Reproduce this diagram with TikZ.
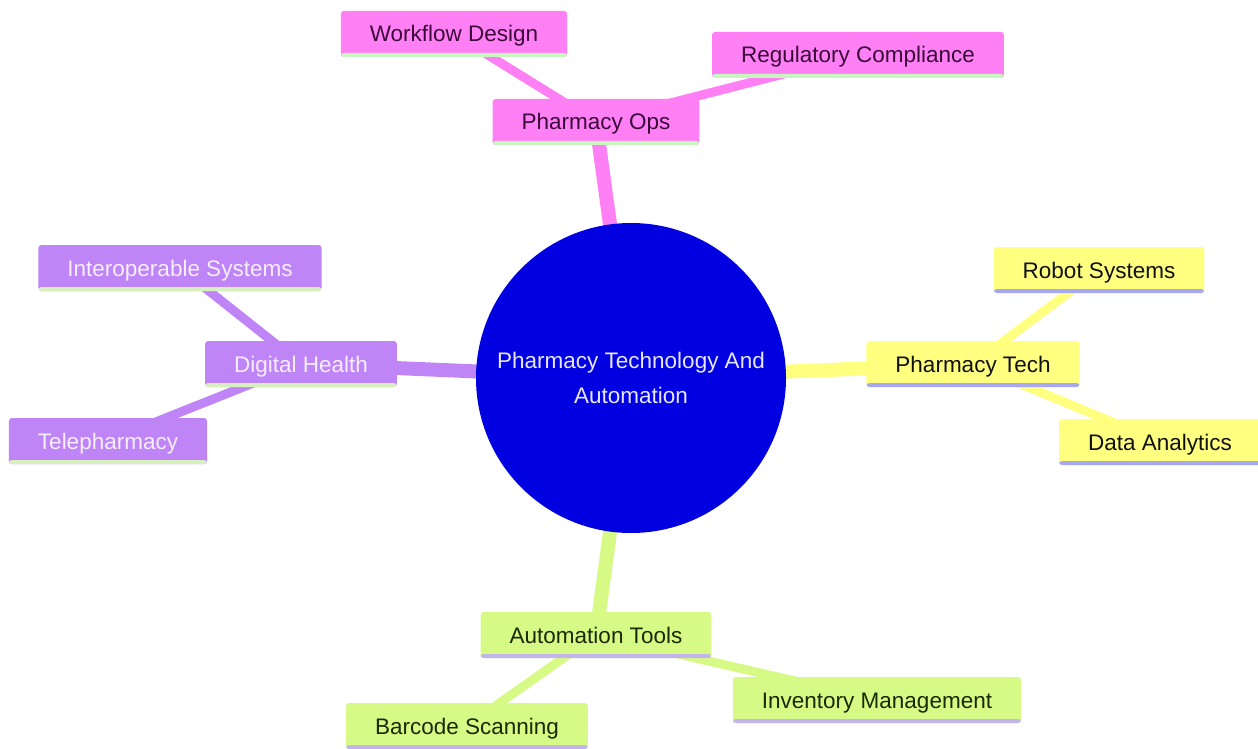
\documentclass[tikz,border=0pt]{standalone}
\usepackage{fontspec}
\setmainfont{Liberation Sans}
\usetikzlibrary{backgrounds}
\definecolor{pinkF}{HTML}{FF80F5}
\definecolor{pinkS}{HTML}{C8F5C0}
\definecolor{pinkT}{HTML}{3A0A3A}
\definecolor{yelF}{HTML}{FFFF80}
\definecolor{yelS}{HTML}{A8A8F0}
\definecolor{yelT}{HTML}{101010}
\definecolor{purF}{HTML}{BF85F7}
\definecolor{purS}{HTML}{D8F0C0}
\definecolor{purT}{HTML}{F5EEFF}
\definecolor{grnF}{HTML}{D7FA87}
\definecolor{grnS}{HTML}{C3B4EC}
\definecolor{grnT}{HTML}{1A2A00}
\definecolor{rootF}{HTML}{0000E0}
\definecolor{rootT}{HTML}{E6E6FF}
\tikzset{
  box/.style={rectangle, rounded corners=3pt, minimum height=46pt, inner xsep=29pt, inner ysep=0pt,
    text height=20pt, text depth=4pt, font=\fontsize{22.5}{26}\selectfont,
    path picture={\fill[#1] (path picture bounding box.south west) rectangle ([yshift=4pt]path picture bounding box.south east);}},
  pinkbox/.style={box=pinkS, fill=pinkF, text=pinkT},
  yelbox/.style={box=yelS, fill=yelF, text=yelT},
  purbox/.style={box=purS, fill=purF, text=purT},
  grnbox/.style={box=grnS, fill=grnF, text=grnT},
  rootnode/.style={circle, fill=rootF, text=rootT, minimum size=310pt, inner sep=0pt, align=center,
    font=\fontsize{22.5}{35}\selectfont},
  thick1/.style={line width=14pt},
  thick2/.style={line width=9pt},
}
\begin{document}
\begin{tikzpicture}[x=1pt,y=-1pt]
\useasboundingbox (0,0) rectangle (1258,749);
\node[rootnode] (root) at (631,378) {Pharmacy Technology And\\Automation};
\node[pinkbox] (ops) at (596,122) {Pharmacy Ops};
\node[pinkbox] (wf) at (454,34) {Workflow Design};
\node[pinkbox] (reg) at (858,55) {Regulatory Compliance};
\node[purbox] (dh) at (301,364) {Digital Health};
\node[purbox] (io) at (180,268) {Interoperable Systems};
\node[purbox] (tp) at (108,441) {Telepharmacy};
\node[yelbox] (pt) at (973,364) {Pharmacy Tech};
\node[yelbox] (rs) at (1099,270) {Robot Systems};
\node[yelbox] (da) at (1160,442) {Data Analytics};
\node[grnbox] (at) at (596,635) {Automation Tools};
\node[grnbox] (bs) at (467,726) {Barcode Scanning};
\node[grnbox] (im) at (877,700) {Inventory Management};
\begin{pgfonlayer}{background}
\draw[pinkF, thick1] (root.center) -- (ops.center);
\draw[pinkF, thick2] (ops.center) -- (wf.center);
\draw[pinkF, thick2] (ops.center) -- (reg.center);
\draw[purF, thick1] (root.center) -- (dh.center);
\draw[purF, thick2] (dh.center) -- (io.center);
\draw[purF, thick2] (dh.center) -- (tp.center);
\draw[yelF, thick1] (root.center) -- (pt.center);
\draw[yelF, thick2] (pt.center) -- (rs.center);
\draw[yelF, thick2] (pt.center) -- (da.center);
\draw[grnF, thick1] (root.center) -- (at.center);
\draw[grnF, thick2] (at.center) -- (bs.center);
\draw[grnF, thick2] (at.center) -- (im.center);
\end{pgfonlayer}
\end{tikzpicture}
\end{document}
